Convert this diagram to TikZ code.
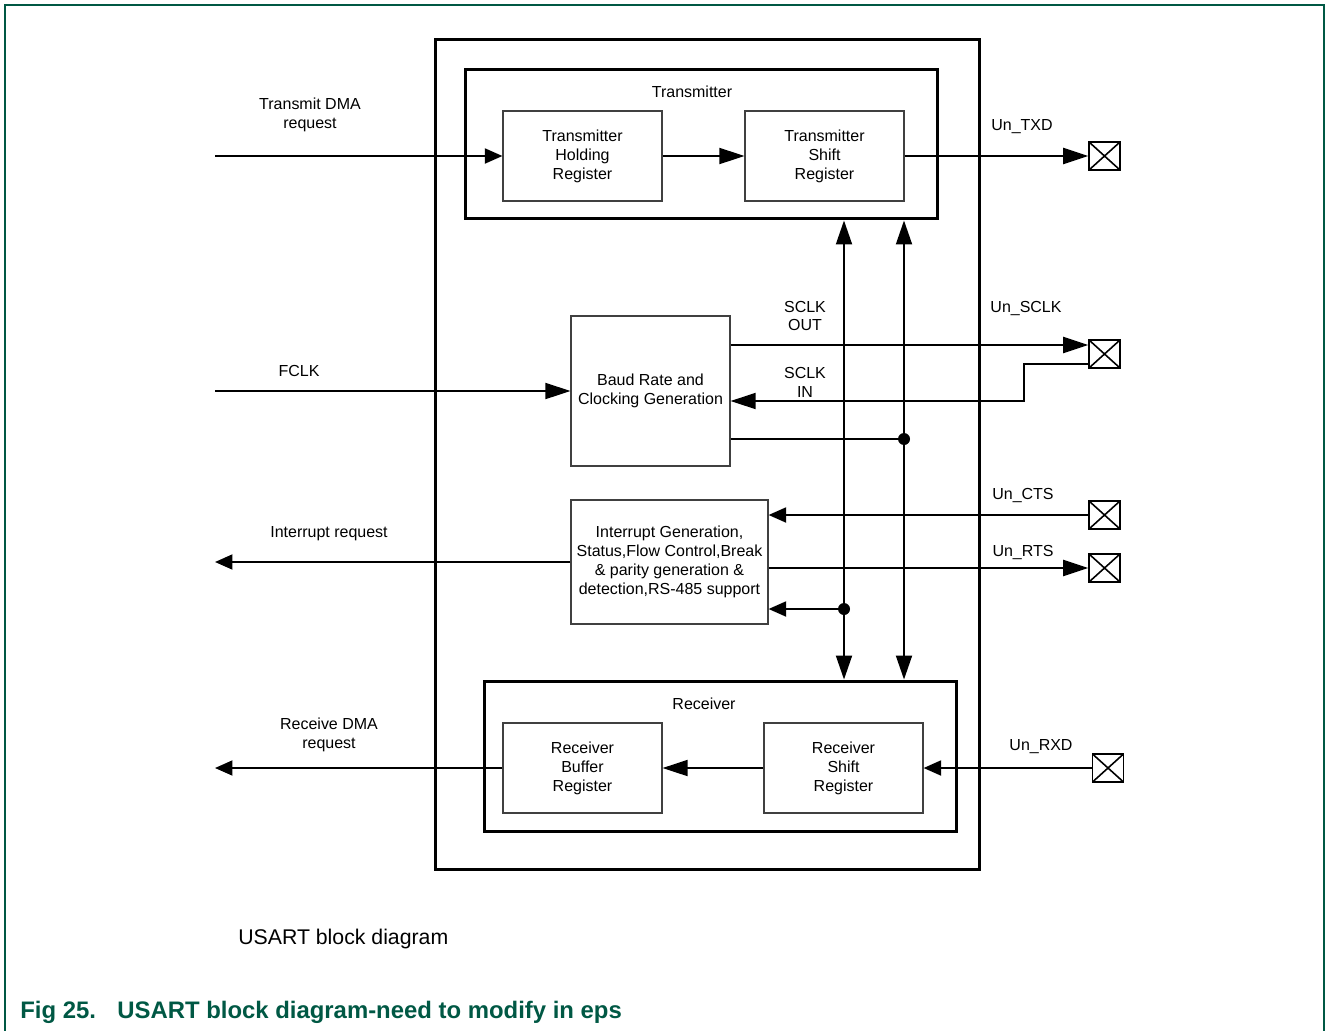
\documentclass[tikz,border=0pt]{standalone}
\usepackage{fontspec}
\setmainfont{Liberation Sans}
\usetikzlibrary{arrows.meta,calc}
\definecolor{capgreen}{RGB}{0,88,68}
\begin{document}
\begin{tikzpicture}[x=0.02cm,y=-0.02cm,
  lbl/.style={font=\fontsize{9.1}{10.8}\selectfont, align=center, inner sep=0pt},
  regbox/.style={draw=black!75, line width=0.7pt, minimum width=3.18cm, minimum height=1.8cm,
    align=center, font=\fontsize{9.1}{10.8}\selectfont, inner sep=0pt},
  blockframe/.style={draw, line width=1.7pt, inner sep=0pt},
  padbox/.style={draw, line width=0.9pt, minimum width=0.62cm, minimum height=0.56cm, inner sep=0pt,
    path picture={\draw[line width=0.9pt]
      (path picture bounding box.north west) -- (path picture bounding box.south east)
      (path picture bounding box.south west) -- (path picture bounding box.north east);}},
  conn/.style={line width=1.1pt},
  longtip/.style={-{Triangle[length=0.5cm,width=0.32cm]}},
  shorttip/.style={-{Triangle[length=0.35cm,width=0.3cm]}},
  bidir/.style={{Triangle[length=0.48cm,width=0.32cm]}-{Triangle[length=0.48cm,width=0.32cm]}},
  junct/.style={circle, fill, minimum size=0.24cm, inner sep=0pt},
]
\useasboundingbox (0,0) rectangle (1326,1031);

% page frame (open at the bottom)
\draw[capgreen, line width=1.2pt] (5,1040) -- (5,5) -- (1324,5) -- (1324,1040);

% enclosing USART block and the two sub-blocks
\node[blockframe, minimum width=10.9cm, minimum height=16.62cm] (usart) at (707.5,454.5) {};
\node[blockframe, minimum width=9.46cm, minimum height=3.0cm] (tx) at (701.5,144) {};
\node[blockframe, minimum width=9.46cm, minimum height=3.02cm] (rx) at (720.5,756.5) {};
\node[lbl] (txtitle) at (692,92) {Transmitter};
\node[lbl] (rxtitle) at (704,704) {Receiver};

% registers and functional blocks
\node[regbox] (thr) at (582.5,156) {Transmitter\\Holding\\Register};
\node[regbox] (tsr) at (824.5,156) {Transmitter\\Shift\\Register};
\node[regbox, minimum height=3.0cm] (baud) at (650.5,391) {Baud Rate and\\Clocking Generation};
\node[regbox, minimum width=3.94cm, minimum height=2.48cm] (intr) at (669.5,562)
  {Interrupt Generation,\\Status,Flow Control,Break\\\& parity generation \&\\detection,RS-485 support};
\node[regbox] (rbr) at (582.5,768) {Receiver\\Buffer\\Register};
\node[regbox] (rsr) at (843.5,768) {Receiver\\Shift\\Register};

% external pads
\node[padbox] (pTXD) at (1104.5,156) {};
\node[padbox] (pSCLK) at (1104.5,354) {};
\node[padbox] (pCTS) at (1104.5,515) {};
\node[padbox] (pRTS) at (1104.5,568) {};
\node[padbox] (pRXD) at (1108,768) {};

% signal labels
\node[lbl] (lTdma) at (310,115) {Transmit DMA\\request};
\node[lbl] (lTxd) at (1022,127) {Un\_TXD};
\node[lbl] (lSout) at (805,316) {SCLK\\OUT};
\node[lbl] (lSclk) at (1026,309) {Un\_SCLK};
\node[lbl] (lFclk) at (299,371) {FCLK};
\node[lbl] (lSin) at (805,382) {SCLK\\IN};
\node[lbl] (lCts) at (1023,496) {Un\_CTS};
\node[lbl] (lIrq) at (329,534) {Interrupt request};
\node[lbl] (lRts) at (1023,553) {Un\_RTS};
\node[lbl] (lRdma) at (329,735) {Receive DMA\\request};
\node[lbl] (lRxd) at (1041,747) {Un\_RXD};

% helper coordinates
\coordinate (tdmaIn) at (215,156);
\coordinate (fclkIn) at (215,391);
\coordinate (irqOut) at (215,562);
\coordinate (rdmaOut) at (215,768);
\coordinate (xA) at (844,0);
\coordinate (xB) at (904,0);
\coordinate (xK) at (1024,0);
\coordinate (ySo) at (0,345);
\coordinate (ySi) at (0,364);
\coordinate (ySi2) at (0,401);
\node[junct] (j1) at (904,439) {};
\node[junct] (j2) at (844,609) {};

% transmit path
\draw[conn,shorttip] (tdmaIn) -- (thr.west);
\draw[conn,longtip] (thr.east) -- (tsr.west);
\draw[conn,longtip] (tsr.east) -- (pTXD.west);

% internal buses between transmitter and receiver
\draw[conn,bidir] (tx.south -| xA) -- (rx.north -| xA);
\draw[conn,bidir] (tx.south -| xB) -- (rx.north -| xB);

% clocking
\draw[conn,longtip] (baud.east |- ySo) -- (pSCLK.west |- ySo);
\draw[conn,longtip] (pSCLK.west |- ySi) -- (xK |- ySi) -- (xK |- ySi2) -- (baud.east |- ySi2);
\draw[conn] (baud.east |- j1) -- (j1);
\draw[conn,longtip] (fclkIn) -- (baud.west |- fclkIn);

% flow control and interrupts
\draw[conn,shorttip] (pCTS.west) -- (intr.east |- pCTS.west);
\draw[conn,longtip] (intr.east |- pRTS.west) -- (pRTS.west);
\draw[conn,shorttip] (intr.west) -- (irqOut);
\draw[conn,shorttip] (j2) -- (intr.east |- j2);

% receive path
\draw[conn,shorttip] (pRXD.west) -- (rsr.east);
\draw[conn,longtip] (rsr.west) -- (rbr.east);
\draw[conn,shorttip] (rbr.west) -- (rdmaOut);

% captions
\node[anchor=west, inner sep=0pt, font=\fontsize{12.1}{14}\selectfont] (sub) at (238,939) {USART block diagram};
\node[anchor=west, inner sep=0pt, text=capgreen, font=\bfseries\fontsize{13.6}{16}\selectfont] (fignum) at (20,1012) {Fig 25.};
\node[anchor=west, inner sep=0pt, text=capgreen, font=\bfseries\fontsize{13.6}{16}\selectfont] (figtitle) at (117,1012) {USART block diagram-need to modify in eps};
\end{tikzpicture}
\end{document}
